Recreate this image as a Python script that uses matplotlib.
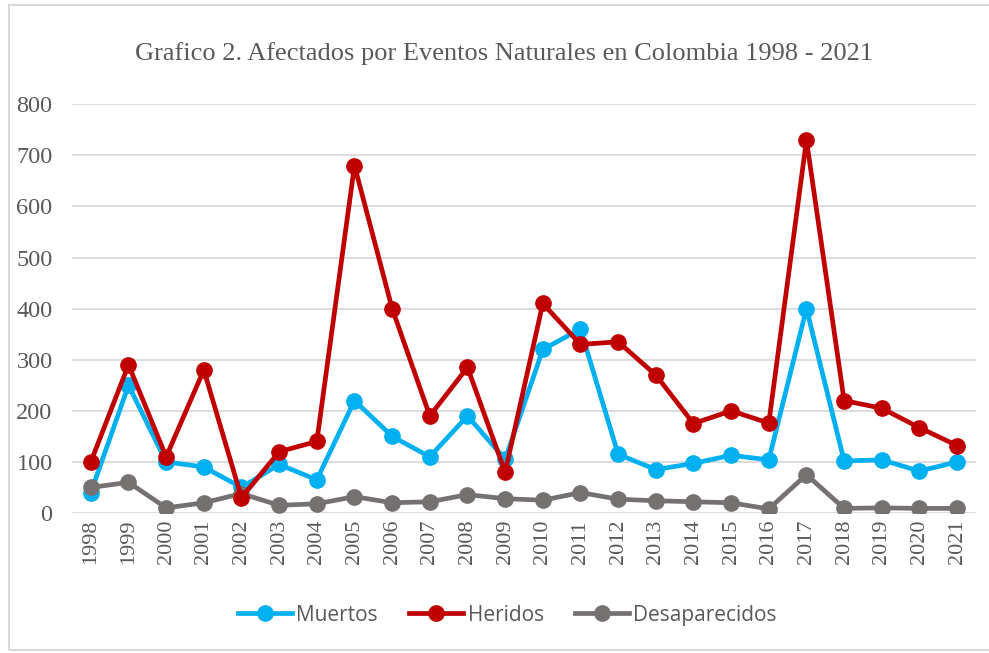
import matplotlib
matplotlib.use("Agg")
import matplotlib.pyplot as plt
from matplotlib.patches import Rectangle

years = [str(y) for y in range(1998, 2022)]

muertos = [40, 250, 100, 90, 50, 95, 65, 220, 150, 110, 190, 105,
           320, 360, 115, 85, 97, 113, 104, 400, 102, 104, 82, 100]
heridos = [100, 290, 110, 280, 30, 120, 140, 680, 400, 190, 285, 80,
           410, 330, 335, 270, 175, 200, 176, 730, 220, 205, 167, 132]
desaparecidos = [50, 60, 10, 20, 38, 15, 18, 32, 20, 22, 36, 28,
                 25, 40, 27, 24, 22, 20, 8, 75, 9, 10, 9, 9]

yticks = [0, 100, 200, 300, 400, 500, 600, 700, 800]

txt = "#595959"
sans = ["Open Sans", "DejaVu Sans"]

fig = plt.figure(figsize=(9.89, 6.53), dpi=100)
ax = fig.add_axes([0.0728, 0.2144, 0.914, 0.626])

x = range(len(years))
ax.plot(x, muertos, color="#00b0f0", lw=3.4, marker="o", ms=11, label="Muertos", zorder=3)
ax.plot(x, heridos, color="#c00000", lw=3.4, marker="o", ms=11, label="Heridos", zorder=4)
ax.plot(x, desaparecidos, color="#767171", lw=3.4, marker="o", ms=11, label="Desaparecidos", zorder=3)

ax.set_xlim(-0.5, len(years) - 0.5)
ax.set_ylim(0, 800)
ax.set_yticks(yticks)
ax.set_xticks(list(x))
ax.set_xticklabels(years, rotation=90, family=["Liberation Serif"], fontsize=16, color=txt)
ax.set_yticklabels([str(v) for v in yticks], family=["Liberation Serif"], fontsize=17.5, color=txt)
ax.tick_params(axis="both", length=0)
ax.tick_params(axis="y", pad=14)
ax.tick_params(axis="x", pad=5)
ax.grid(axis="y", color="#d9d9d9", lw=1.3, zorder=0)
for s in ax.spines.values():
    s.set_visible(False)

fig.suptitle("Grafico 2. Afectados por Eventos Naturales en Colombia 1998 - 2021",
             x=0.51, y=0.935, fontsize=19, family="Liberation Serif", color=txt)

leg = fig.legend(loc="center", bbox_to_anchor=(0.513, 0.058), ncol=3, frameon=False,
                 prop={"family": sans, "size": 15}, handlelength=2.6,
                 columnspacing=1.5, handletextpad=0.2)
for t in leg.get_texts():
    t.set_color(txt)

fig.patches.append(Rectangle((0.009, 0.004), 1.0, 0.988, transform=fig.transFigure,
                             fill=False, edgecolor="#d9d9d9", lw=1.5))

fig.savefig("out.png", dpi=100)
